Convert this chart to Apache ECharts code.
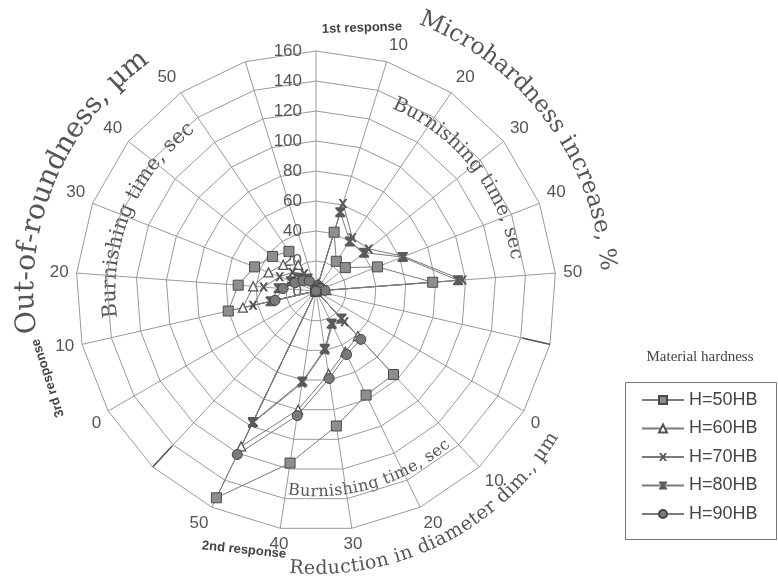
<!DOCTYPE html>
<html>
<head>
<meta charset="utf-8">
<script src="https://cdn.jsdelivr.net/npm/echarts@6/dist/echarts.min.js"></script>
<style>
html, body { margin: 0; padding: 0; background: #fff; }
#main { width: 778px; height: 582px; }
</style>
</head>
<body>
<div id="main"></div>
<script>
// burnishing time ticks, repeated in each of the three response sectors
var burnTimes = ['0', '10', '20', '30', '40', '50']
var seriesNames = ['H=50HB', 'H=60HB', 'H=70HB', 'H=80HB', 'H=90HB']

// 1st response: microhardness increase, % (t = 0..50 sec)
var microH50 = [0, 41, 24, 25, 44, 78]
var microH60 = [0, 5, 4, 4, 5, 7]
var microH70 = [0, 61, 43, 45, 63, 98]
var microH80 = [0, 55, 40, 41, 62, 95]
var microH90 = [0, 4, 3, 3, 4, 6]

// 2nd response: reduction in diameter dim., um
var diamH50 = [0, 76, 77, 91, 116, 153]
var diamH60 = [0, 41, 45, 56, 80, 115]
var diamH70 = [0, 28, 25, 40, 62, 98]
var diamH80 = [0, 25, 24, 39, 61, 97]
var diamH90 = [0, 44, 47, 59, 84, 121]

// 3rd response: out-of-roundness, um
var roundH50 = [0, 60, 52, 44, 37, 32]
var roundH60 = [0, 50, 42, 34, 28, 21]
var roundH70 = [0, 43, 35, 26, 20, 14]
var roundH80 = [0, 31, 25, 18, 14, 10]
var roundH90 = [0, 28, 22, 15, 11, 8]

var micro = [microH50, microH60, microH70, microH80, microH90]
var diam = [diamH50, diamH60, diamH70, diamH80, diamH90]
var round = [roundH50, roundH60, roundH70, roundH80, roundH90]

var CX = 316
var CY = 291
var RAD = 240

// angle labels: 3 sectors x (6 times + 1 blank separator spoke)
var angleLabels = []
for (var s = 0; s < 3; s++) {
  for (var j = 0; j < burnTimes.length; j++) {
    angleLabels.push(s === 0 && j === 0 ? '' : burnTimes[j])
  }
  angleLabels.push('')
}
var nSpokes = angleLabels.length // 21

var symbols = [
  'rect',
  'triangle',
  'path://M0,0 L2.6,0 L5,3.2 L7.4,0 L10,0 L6.4,5 L10,10 L7.4,10 L5,6.8 L2.6,10 L0,10 L3.6,5 Z',
  'path://M0,0 L10,0 L10,1.8 L6.6,5 L10,8.2 L10,10 L0,10 L0,8.2 L3.4,5 L0,1.8 Z',
  'circle'
]
var symbolSizes = [10, 9, 9, 10, 10]
var itemStyles = [
  { color: '#8e8e8e', borderColor: '#4a4a4a', borderWidth: 1 },
  { color: '#ffffff', borderColor: '#555', borderWidth: 1.3 },
  { color: '#555', borderWidth: 0 },
  { color: '#5a5a5a', borderWidth: 0 },
  { color: '#7a7a7a', borderColor: '#444', borderWidth: 1 }
]

var series = []
seriesNames.forEach(function (name, k) {
  var vals = []
  ;[micro[k], diam[k], round[k]].forEach(function (arr) {
    arr.forEach(function (v) { vals.push(v) })
    vals.push(0) // separator spoke
  })
  series.push({
    type: 'line',
    name: name,
    coordinateSystem: 'polar',
    data: vals.map(function (v, i) { return [v, i] }),
    symbol: symbols[k],
    symbolSize: symbolSizes[k],
    lineStyle: { color: '#7a7a7a', width: 1 },
    itemStyle: itemStyles[k],
    clip: false,
    z: 4
  })
})

// darker separator lines between the responses, drawn past the outer ring
var separators = [[0, 163, 189], [6, 141, 187], [13, 141, 192]]
separators.forEach(function (sp) {
  series.push({
    type: 'line',
    coordinateSystem: 'polar',
    data: [[sp[1], sp[0]], [sp[2], sp[0]]],
    symbol: 'none',
    lineStyle: { color: '#555', width: 1.5 },
    clip: false,
    silent: true,
    z: 3
  })
})

// text laid along an arc around the chart centre, one glyph each
var mctx = document.createElement('canvas').getContext('2d')
function arcText (str, r, a1, a2, dir, size, family, color) {
  var chars = Array.from(str)
  var font = size + 'px ' + family
  mctx.font = font
  var widths = chars.map(function (c) { return mctx.measureText(c).width })
  var total = widths.reduce(function (a, b) { return a + b }, 0)
  var span = Math.abs(a2 - a1) * Math.PI / 180 * r
  if (total > span * 0.98) {
    size = size * span * 0.98 / total
    font = size.toFixed(1) + 'px ' + family
    mctx.font = font
    widths = chars.map(function (c) { return mctx.measureText(c).width })
    total = widths.reduce(function (a, b) { return a + b }, 0)
  }
  var gap = chars.length > 1 ? (span - total) / (chars.length - 1) : 0
  var pos = 0
  var out = []
  chars.forEach(function (c, i) {
    var mid = pos + widths[i] / 2
    pos += widths[i] + gap
    if (c === ' ') return
    var th = a1 * Math.PI / 180 + dir * mid / r
    out.push({
      type: 'text',
      x: CX + r * Math.sin(th),
      y: CY - r * Math.cos(th),
      rotation: dir > 0 ? -th : -(th + Math.PI),
      silent: true,
      style: { text: c, font: font, fill: color, align: 'center', verticalAlign: 'middle', textAlign: 'center', textVerticalAlign: 'middle' }
    })
  })
  return out
}

var serif = '"DejaVu Serif"'
var titleColor = '#555'
var graphics = []
graphics = graphics.concat(arcText('Microhardness increase, %', 292, 21, 86, 1, 27, serif, titleColor))
graphics = graphics.concat(arcText('Out-of-roundness, \u00b5m', 290, 261.5, 324, 1, 29, serif, titleColor))
graphics = graphics.concat(arcText('Reduction in diameter dim., \u00b5m', 278, 185.5, 121, -1, 25, serif, titleColor))
graphics = graphics.concat(arcText('Burnishing time, sec', 203, 22.5, 81, 1, 21, serif, titleColor))
graphics = graphics.concat(arcText('Burnishing time, sec', 206, 262.5, 323, 1, 21, serif, titleColor))
graphics = graphics.concat(arcText('Burnishing time, sec', 201, 188, 139, -1, 20, serif, titleColor))

var smallFont = 'bold 13px "Liberation Sans"'
graphics.push(
  { type: 'text', x: 362, y: 28, rotation: 2 * Math.PI / 180, silent: true,
    style: { text: '1st response', font: smallFont, fill: '#444', align: 'center', verticalAlign: 'middle', textAlign: 'center', textVerticalAlign: 'middle' } },
  { type: 'text', x: 244, y: 550, rotation: -6 * Math.PI / 180, silent: true,
    style: { text: '2nd response', font: smallFont, fill: '#444', align: 'center', verticalAlign: 'middle', textAlign: 'center', textVerticalAlign: 'middle' } },
  { type: 'text', x: 48, y: 378, rotation: 108 * Math.PI / 180, silent: true,
    style: { text: '3rd response', font: smallFont, fill: '#444', align: 'center', verticalAlign: 'middle', textAlign: 'center', textVerticalAlign: 'middle' } },
  // legend frame and title
  { type: 'rect', left: 628, top: 537, shape: { width: 149, height: 3 }, style: { fill: '#555' }, silent: true, z: 0 },
  { type: 'rect', left: 625, top: 382, shape: { width: 151, height: 157 }, style: { fill: '#fff', stroke: '#777', lineWidth: 1 }, silent: true, z: 0 },
  { type: 'text', x: 700, y: 357, silent: true,
    style: { text: 'Material hardness', font: '15px "Liberation Serif"', fill: '#444', align: 'center', verticalAlign: 'middle', textAlign: 'center', textVerticalAlign: 'middle' } }
)

var indicators = angleLabels.map(function () { return { name: '', max: 160, min: 0 } })

var chart = echarts.init(document.getElementById('main'))
var option = {
  backgroundColor: '#fff',
  animation: false,
  legend: {
    data: seriesNames,
    orient: 'vertical',
    left: 641,
    top: 391,
    itemWidth: 42,
    itemHeight: 10,
    itemGap: 10.5,
    padding: 0,
    z: 5,
    textStyle: { fontSize: 18, color: '#444', fontFamily: 'Liberation Sans' }
  },
  radar: {
    center: [CX, CY],
    radius: RAD,
    startAngle: 90,
    splitNumber: 8,
    shape: 'polygon',
    indicator: indicators,
    axisName: { show: false },
    axisLine: { show: false },
    axisTick: { show: false },
    axisLabel: { show: false },
    splitArea: { show: false },
    splitLine: { lineStyle: { color: '#9a9a9a', width: 1 } }
  },
  polar: { center: [CX, CY], radius: RAD },
  angleAxis: {
    type: 'value',
    min: 0,
    max: nSpokes,
    interval: 1,
    startAngle: 90,
    clockwise: true,
    axisLine: { show: false },
    axisTick: { show: false },
    splitLine: { show: true, lineStyle: { color: '#9a9a9a', width: 1 } },
    axisLabel: {
      margin: 8,
      fontSize: 17,
      color: '#555',
      fontFamily: 'Liberation Sans',
      formatter: function (v) { return angleLabels[v] || '' }
    }
  },
  radiusAxis: {
    min: 0,
    max: 160,
    interval: 20,
    axisLine: { show: false },
    axisTick: { show: false },
    splitLine: { show: false },
    axisLabel: { fontSize: 17, color: '#555', fontFamily: 'Liberation Sans', margin: 14 }
  },
  graphic: graphics,
  series: series
}
chart.setOption(option)
</script>
</body>
</html>
